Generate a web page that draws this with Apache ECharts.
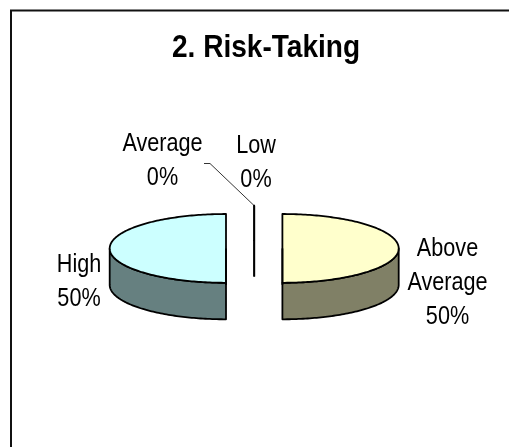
<!DOCTYPE html>
<html>
<head>
<meta charset="utf-8">
<style>html,body{margin:0;padding:0;background:#fff}#chart{width:509px;height:447px}</style>
<script src="https://cdn.jsdelivr.net/npm/echarts@6/dist/echarts.min.js"></script>
</head>
<body>
<div id="chart"></div>
<script>
const chartTitle = '2. Risk-Taking';
const categories = ['Above Average', 'High', 'Average', 'Low'];
const values = [50, 50, 0, 0];
const labelLines = [['Above', 'Average'], ['High'], ['Average'], ['Low']];
const topColors = ['#FFFFCC', '#CCFFFF', '#FFFFFF', '#FFFFFF'];
const wallColors = ['#808066', '#668080', '#808080', '#808080'];

// Tilted-pie geometry shared by every slice.
const pie = { cx: 254.2, cy: 248.4, rx: 116.3, ry: 34.4, depth: 36.5, explode: 28.2 };
// Centre x and first-line baseline of each label block.
const labelSpots = [[447.5, 257.7], [79, 274], [162.5, 153], [256, 155]];
const labelFont = { size: 25, lineHeight: 34, squeeze: 0.865 };
const fontFamily = '"Liberation Sans", Arial, sans-serif';
const total = values.reduce((a, b) => a + b, 0);

// Angles run clockwise from twelve o'clock.
function rim(c, a, drop) {
  return [c[0] + pie.rx * Math.sin(a), c[1] - pie.ry * Math.cos(a) + (drop || 0)];
}
function arc(c, a0, a1, drop) {
  const n = Math.max(1, Math.ceil(Math.abs(a1 - a0) / 0.02));
  const pts = [];
  for (let i = 0; i <= n; i++) pts.push(rim(c, a0 + (a1 - a0) * i / n, drop));
  return pts;
}

function renderSlice(params, api) {
  const i = params.dataIndex;
  const v = api.value(1);
  const before = values.slice(0, i).reduce((a, b) => a + b, 0);
  const a0 = before / total * 2 * Math.PI;
  const a1 = (before + v) / total * 2 * Math.PI;
  const mid = (a0 + a1) / 2;
  const c = [
    pie.cx + pie.explode * Math.sin(mid),
    pie.cy - pie.explode * (pie.ry / pie.rx) * Math.cos(mid)
  ];
  const outline = { stroke: '#000', lineWidth: 1.8, lineJoin: 'round' };
  const kids = [];

  // Outer wall: only the part of the rim that faces the viewer.
  const w0 = Math.max(a0, Math.PI / 2);
  const w1 = Math.min(a1, 3 * Math.PI / 2);
  if (w1 > w0) {
    kids.push({
      type: 'polygon',
      shape: { points: arc(c, w0, w1).concat(arc(c, w1, w0, pie.depth)) },
      style: Object.assign({ fill: wallColors[i] }, outline)
    });
  }

  // Top face; a zero-sized slice collapses into a single radius.
  kids.push({
    type: 'polygon',
    shape: { points: [c].concat(arc(c, a0, a1)) },
    style: Object.assign({ fill: topColors[i] }, outline)
  });

  // Cut edge dropping from the centre to the base.
  kids.push({
    type: 'polyline',
    shape: { points: [c, [c[0], c[1] + pie.depth]] },
    style: Object.assign({ fill: null }, outline)
  });

  // Leader for the label that sits away from its slice.
  if (categories[i] === 'Average') {
    kids.push({
      type: 'polyline',
      shape: { points: [rim(c, a0), [210, 163.5], [204, 163.5]] },
      style: { stroke: '#000', lineWidth: 0.8, fill: null }
    });
  }

  const lines = labelLines[i].concat(Math.round(v / total * 100) + '%');
  const blockMiddle = labelSpots[i][1] + (lines.length - 1) * labelFont.lineHeight / 2
    - labelFont.size * 0.35;
  kids.push({
    type: 'text',
    x: labelSpots[i][0],
    y: blockMiddle,
    scaleX: labelFont.squeeze,
    style: {
      text: lines.join('\n'),
      x: 0,
      y: 0,
      align: 'center',
      verticalAlign: 'middle',
      fontFamily: fontFamily,
      fontSize: labelFont.size,
      lineHeight: labelFont.lineHeight,
      fill: '#000'
    }
  });
  return { type: 'group', children: kids };
}

const chart = echarts.init(document.getElementById('chart'), null, { renderer: 'canvas' });
chart.setOption({
  animation: false,
  backgroundColor: '#fff',
  graphic: [{
    type: 'rect',
    shape: { x: 11, y: 10.5, width: 540, height: 480 },
    style: { fill: null, stroke: '#111', lineWidth: 2 },
    silent: true
  }, {
    type: 'text',
    x: 266,
    y: 48.5,
    scaleX: 0.905,
    style: {
      text: chartTitle,
      x: 0,
      y: 0,
      align: 'center',
      verticalAlign: 'middle',
      fontFamily: fontFamily,
      fontWeight: 'bold',
      fontSize: 31,
      fill: '#000'
    },
    silent: true
  }],
  series: [{
    type: 'custom',
    coordinateSystem: 'none',
    renderItem: renderSlice,
    clip: false,
    data: categories.map((name, i) => ({ name: name, value: [i, values[i]] }))
  }]
});
</script>
</body>
</html>
